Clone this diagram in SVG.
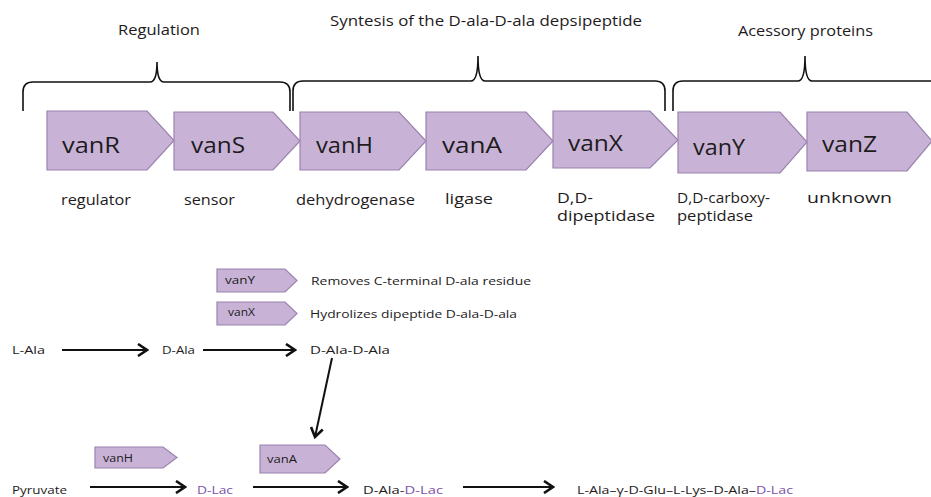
<svg xmlns="http://www.w3.org/2000/svg" width="931" height="497" viewBox="0 0 931 497">
<style>
text{font-family:"Open Sans","Liberation Sans",sans-serif;fill:#1e1b1c}
.h{font-size:14px}
.g{font-size:21px}
.s{font-size:14px}
.m{font-size:11px}
.p{fill:#7b52a8}
.gene{fill:#c8b3d7;stroke:#9a82ae;stroke-width:1.2}
.brace{fill:none;stroke:#111;stroke-width:1.6}
.arr{fill:none;stroke:#111;stroke-width:2}
</style>
<defs>
<marker id="ah" viewBox="-12 -7 14 14" refX="0" refY="0" markerWidth="14" markerHeight="14" markerUnits="userSpaceOnUse" orient="auto">
<path d="M-9,-6 L0,0 L-9,6" fill="none" stroke="#111" stroke-width="2.6"/>
</marker>
</defs>
<g id="braces">
<path class="brace" d="M23,111 L23,92 Q23,82 33,82 L150,82 Q157,82 157,62 Q157,82 164,82 L280,82 Q290,82 290,92 L290,111"/>
<path class="brace" d="M293,111 L293,91 Q293,81 303,81 L471,81 Q478,81 478,56 Q478,81 485,81 L655,81 Q665,81 665,91 L665,111"/>
<path class="brace" d="M673,111 L673,91 Q673,81 683,81 L798,81 Q805,81 805,56 Q805,81 812,81 L935,81"/>
<text class="h" x="118" y="35" textLength="82" lengthAdjust="spacingAndGlyphs">Regulation</text>
<text class="h" x="330" y="26" textLength="312" lengthAdjust="spacingAndGlyphs">Syntesis of the D-ala-D-ala depsipeptide</text>
<text class="h" x="738" y="36" textLength="135" lengthAdjust="spacingAndGlyphs">Acessory proteins</text>
</g>
<g id="vanR"><path class="gene" d="M47,111 H147 L174,140.5 L147,170 H47 Z"/><text class="g" x="62" y="153" textLength="58" lengthAdjust="spacingAndGlyphs">vanR</text><text class="s" x="61" y="205" textLength="70" lengthAdjust="spacingAndGlyphs">regulator</text></g>
<g id="vanS"><path class="gene" d="M174,112 H273 L300,141 L273,170 H174 Z"/><text class="g" x="191" y="153" textLength="54" lengthAdjust="spacingAndGlyphs">vanS</text><text class="s" x="184" y="205" textLength="51" lengthAdjust="spacingAndGlyphs">sensor</text></g>
<g id="vanH"><path class="gene" d="M300,112 H399 L426,141 L399,170 H300 Z"/><text class="g" x="316" y="153" textLength="57" lengthAdjust="spacingAndGlyphs">vanH</text><text class="s" x="296" y="205" textLength="119" lengthAdjust="spacingAndGlyphs">dehydrogenase</text></g>
<g id="vanA"><path class="gene" d="M426,112 H526 L553,141 L526,170 H426 Z"/><text class="g" x="442" y="153" textLength="60" lengthAdjust="spacingAndGlyphs">vanA</text><text class="s" x="445" y="204" textLength="48" lengthAdjust="spacingAndGlyphs">ligase</text></g>
<g id="vanX"><path class="gene" d="M553,111 H650 L678,140 L650,168 H553 Z"/><text class="g" x="568" y="151" textLength="55" lengthAdjust="spacingAndGlyphs">vanX</text><text class="s" x="557" y="203" textLength="36" lengthAdjust="spacingAndGlyphs">D,D-</text><text class="s" x="557" y="221" textLength="98" lengthAdjust="spacingAndGlyphs">dipeptidase</text></g>
<g id="vanY"><path class="gene" d="M678,112 H780 L807,142 L780,173 H678 Z"/><text class="g" x="693" y="155" textLength="52" lengthAdjust="spacingAndGlyphs">vanY</text><text class="s" x="677" y="203" textLength="93" lengthAdjust="spacingAndGlyphs">D,D-carboxy-</text><text class="s" x="677" y="221" textLength="76" lengthAdjust="spacingAndGlyphs">peptidase</text></g>
<g id="vanZ"><path class="gene" d="M807,112 H907 L932,141 L907,171 H807 Z"/><text class="g" x="822" y="152" textLength="55" lengthAdjust="spacingAndGlyphs">vanZ</text><text class="s" x="807" y="203" textLength="85" lengthAdjust="spacingAndGlyphs">unknown</text></g>
<g id="vanY-small"><path class="gene" d="M217,269 H285 L297,280.5 L285,292 H217 Z"/><text class="m" x="225" y="284" textLength="30" lengthAdjust="spacingAndGlyphs">vanY</text><text class="m" x="311" y="285" textLength="220" lengthAdjust="spacingAndGlyphs">Removes C-terminal D-ala residue</text></g>
<g id="vanX-small"><path class="gene" d="M217,302 H285 L297,313.5 L285,325 H217 Z"/><text class="m" x="228" y="316" textLength="27" lengthAdjust="spacingAndGlyphs">vanX</text><text class="m" x="310" y="318" textLength="207" lengthAdjust="spacingAndGlyphs">Hydrolizes dipeptide D-ala-D-ala</text></g>
<g id="L-Ala"><text class="m" x="12" y="354" textLength="33" lengthAdjust="spacingAndGlyphs">L-Ala</text></g>
<g id="D-Ala"><text class="m" x="162" y="354" textLength="33" lengthAdjust="spacingAndGlyphs">D-Ala</text></g>
<g id="D-Ala-D-Ala"><text class="m" x="310" y="354" textLength="80" lengthAdjust="spacingAndGlyphs">D-Ala-D-Ala</text></g>
<g id="vanH-small"><path class="gene" d="M95,447 H163 L177,457.5 L163,468 H95 Z"/><text class="m" x="103" y="462" textLength="30" lengthAdjust="spacingAndGlyphs">vanH</text></g>
<g id="vanA-small"><path class="gene" d="M260,445 H325 L340,459 L325,473 H260 Z"/><text class="m" x="267" y="463" textLength="30" lengthAdjust="spacingAndGlyphs">vanA</text></g>
<g id="Pyruvate"><text class="m" x="12" y="494" textLength="55" lengthAdjust="spacingAndGlyphs">Pyruvate</text></g>
<g id="D-Lac"><text class="m p" x="197" y="494" textLength="36" lengthAdjust="spacingAndGlyphs">D-Lac</text></g>
<g id="D-Ala-D-Lac"><text class="m" x="363" y="494" textLength="80" lengthAdjust="spacingAndGlyphs">D-Ala-<tspan class="p">D-Lac</tspan></text></g>
<g id="peptide"><text class="m" x="577" y="494" textLength="216" lengthAdjust="spacingAndGlyphs">L-Ala–γ-D-Glu–L-Lys–D-Ala–<tspan class="p">D-Lac</tspan></text></g>
<g id="connectors">
<line class="arr" x1="62" y1="350" x2="147" y2="350" marker-end="url(#ah)"/>
<line class="arr" x1="203" y1="350" x2="295" y2="350" marker-end="url(#ah)"/>
<line class="arr" x1="332" y1="358" x2="315" y2="437" marker-end="url(#ah)"/>
<line class="arr" x1="90" y1="487" x2="185" y2="487" marker-end="url(#ah)"/>
<line class="arr" x1="253" y1="487" x2="347" y2="487" marker-end="url(#ah)"/>
<line class="arr" x1="463" y1="487" x2="553" y2="487" marker-end="url(#ah)"/>
</g>
</svg>
